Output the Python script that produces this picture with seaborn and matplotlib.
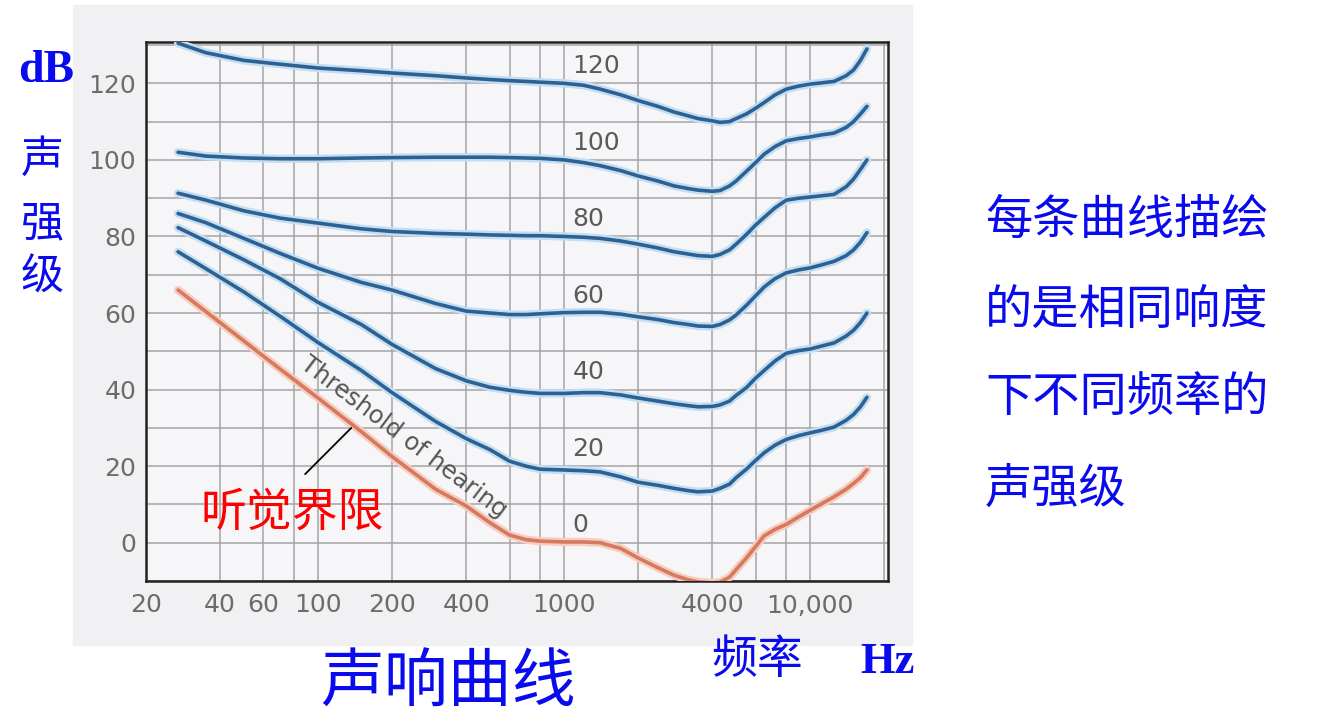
import pandas as pd
import matplotlib
matplotlib.use('Agg')
import matplotlib.pyplot as plt
import matplotlib.patheffects as pe
from matplotlib.patches import Rectangle
import seaborn as sns

freqs = [27, 35, 50, 70, 100, 150, 200, 300, 400, 500,
         600, 700, 800, 1000, 1200, 1400, 1700, 2000, 2400, 2800,
         3200, 3500, 4000, 4300, 4700, 5000, 5500, 6000, 6500, 7200,
         8000, 9000, 10000, 11000, 12500, 14000, 15000, 16000, 17000]

# sound level (dB) of each equal-loudness curve
db_120 = [130.5, 128, 126, 125, 124, 123.3, 122.7, 122, 121.4, 121,
          120.7, 120.5, 120.3, 120, 119.5, 118.5, 117, 115.5, 114, 112.5,
          111.5, 110.8, 110.2, 109.8, 110, 110.8, 112, 113.5, 115, 117,
          118.5, 119.3, 119.8, 120.1, 120.5, 122, 123.5, 126, 129]
db_100 = [102, 101, 100.5, 100.3, 100.3, 100.5, 100.6, 100.7, 100.7, 100.7,
          100.6, 100.5, 100.4, 100, 99.3, 98.5, 97.2, 95.8, 94.5, 93.2,
          92.5, 92.1, 91.8, 92, 93.2, 94.5, 97, 99.3, 101.5, 103.5,
          105, 105.6, 106, 106.5, 107, 108.5, 110, 112, 114]
db_80 = [91.3, 89.5, 86.7, 84.8, 83.5, 82, 81.3, 80.8, 80.6, 80.4,
         80.3, 80.2, 80.2, 80, 79.8, 79.5, 78.8, 78, 77, 76,
         75.4, 75, 74.8, 75.3, 76.5, 78, 80.5, 83, 85, 87.5,
         89.5, 90, 90.3, 90.6, 91, 93, 95, 97.5, 100]
db_60 = [86, 83.6, 79.5, 75.6, 71.7, 68, 66, 62.5, 60.5, 60,
         59.6, 59.6, 59.8, 60.1, 60.2, 60.2, 59.7, 59, 58.3, 57.5,
         57, 56.6, 56.5, 57, 58.2, 59.5, 62, 64.5, 66.8, 69,
         70.5, 71.3, 71.8, 72.5, 73.5, 75, 76.5, 78.5, 81]
db_40 = [82.3, 78.8, 73.9, 69, 62.8, 57, 51.8, 45.5, 42.3, 40.6,
         39.8, 39.3, 39, 39, 39.2, 39.2, 38.6, 37.8, 37, 36.3,
         35.8, 35.5, 35.6, 36, 37, 38.5, 40.5, 43, 45, 47.5,
         49.5, 50.2, 50.6, 51.3, 52.2, 54, 55.5, 57.5, 60]
db_20 = [76, 71.6, 65.5, 59.2, 52.3, 45, 39.2, 31.7, 27.2, 24.3,
         21.3, 20, 19.2, 19, 18.8, 18.5, 17.2, 15.8, 15, 14.2,
         13.6, 13.3, 13.5, 14.2, 15.3, 17, 19.2, 21.5, 23.5, 25.5,
         27, 28, 28.7, 29.3, 30.2, 32, 33.5, 35.5, 38]
db_0 = [66, 60.4, 52.7, 45.4, 37.8, 29, 22.5, 14, 9.6, 5.2,
        2.0, 0.8, 0.4, 0.2, 0.2, 0, -1.5, -4, -6.5, -8.5,
        -9.7, -10.2, -10.5, -10.3, -9, -7, -4, -1, 1.8, 3.5,
        4.8, 6.8, 8.5, 10, 12, 14, 15.5, 17, 19]

levels = ['120', '100', '80', '60', '40', '20', '0']
curves = [db_120, db_100, db_80, db_60, db_40, db_20, db_0]
label_db = [124.5, 104.5, 84.5, 64.5, 44.5, 24.5, 4.5]

xtick_vals = [20, 40, 60, 100, 200, 400, 1000, 4000, 10000]
xtick_labels = ['20', '40', '60', '100', '200', '400', '1000', '4000', '10,000']
xgrid_extra = [80, 600, 800, 2000, 6000, 8000, 20000]
ytick_vals = [0, 20, 40, 60, 80, 100, 120]

rows = []
for lev, vals in zip(levels, curves):
    for f, v in zip(freqs, vals):
        rows.append({'freq': f, 'db': v, 'curve': lev})
df = pd.DataFrame(rows)

sns.set_theme(style='white')
plt.rcParams['font.family'] = ['DejaVu Sans', 'Noto Sans CJK SC']

W, H = 1322, 728
fig = plt.figure(figsize=(W / 100, H / 100), dpi=100)
fig.patch.set_facecolor('white')

# scanned paper area
fig.add_artist(Rectangle((73 / W, 1 - 645 / H), (912 - 73) / W, (645 - 5) / H,
                         transform=fig.transFigure, color='#f1f1f3', zorder=0))

ax = fig.add_axes([146 / W, 1 - 581 / H, 742 / W, 539 / H])
ax.set_facecolor('#f6f6f9')

blue = '#2d6193'
red = '#d57a60'
palette = {lev: (red if lev == '0' else blue) for lev in levels}
sns.lineplot(data=df, x='freq', y='db', hue='curve', palette=palette,
             legend=False, sort=False, linewidth=2.6, ax=ax, zorder=3)
for line in ax.lines:
    halo = '#f6cdbf' if line.get_color() == red else '#c3def0'
    line.set_path_effects([pe.Stroke(linewidth=6, foreground=halo), pe.Normal()])
    line.set_solid_capstyle('round')
    line.set_solid_joinstyle('round')

ax.set_xscale('log')
ax.set_xlim(20, 20700)
ax.set_ylim(-9.6, 130.8)
ax.set_xticks(xtick_vals)
ax.set_xticklabels(xtick_labels)
ax.set_xticks(xgrid_extra, minor=True)
ax.xaxis.set_minor_formatter(plt.NullFormatter())
ax.set_yticks(ytick_vals)
ax.set_yticks(range(-10, 131, 10), minor=True)
ax.grid(True, which='both', color='#a4a4a8', linewidth=1.1, zorder=1)
ax.set_axisbelow(True)
ax.tick_params(which='both', length=0, labelsize=18, labelcolor='#6c6c6c')
ax.tick_params(axis='x', pad=9)
ax.tick_params(axis='y', pad=7)
ax.set_xlabel('')
ax.set_ylabel('')
for sp in ax.spines.values():
    sp.set_visible(True)
    sp.set_color('#222222')
    sp.set_linewidth(1.8)

# curve labels
for lev, yv in zip(levels, label_db):
    ax.text(1080, yv, lev, fontsize=18, color='#5a5a5a', ha='left', va='center', zorder=4)

ax.text(222, 27.5, 'Threshold of hearing', fontsize=17.5, color='#555555',
        rotation=-37, rotation_mode='anchor', ha='center', va='center', zorder=4)

ax.annotate('', xy=(139, 30.5), xytext=(87, 17.4),
            arrowprops=dict(arrowstyle='-', color='black', lw=1.3), zorder=4)

cjk = ['Noto Sans CJK SC', 'DejaVu Sans']
blue_txt = '#0a0aee'
fig.text(292 / W, 1 - 512 / H, '听觉界限', family=cjk, fontsize=33, color='#ff0000',
         ha='center', va='center')

fig.text(18 / W, 1 - 82 / H, 'dB', family=['Liberation Serif', 'DejaVu Serif'],
         fontweight='bold', fontsize=33, color=blue_txt, ha='left', va='baseline')
for ch, yc in zip('声强级', [160, 224, 278]):
    fig.text(42 / W, 1 - yc / H, ch, family=cjk, fontsize=31, color=blue_txt,
             ha='center', va='center')

right_lines = ['每条曲线描绘', '的是相同响度', '下不同频率的', '声强级']
for txt, yc in zip(right_lines, [221, 311, 398, 490]):
    fig.text(985 / W, 1 - yc / H, txt, family=cjk, fontsize=34, color=blue_txt,
             ha='left', va='center')

fig.text(448 / W, 1 - 683 / H, '声响曲线', family=cjk, fontsize=46, color=blue_txt,
         ha='center', va='center')
fig.text(757 / W, 1 - 660 / H, '频率', family=cjk, fontsize=33, color=blue_txt,
         ha='center', va='center')
fig.text(887 / W, 1 - 662 / H, 'Hz', family=['Liberation Serif', 'DejaVu Serif'],
         fontweight='bold', fontsize=32, color=blue_txt, ha='center', va='center')

fig.savefig('out.png', dpi=100)
